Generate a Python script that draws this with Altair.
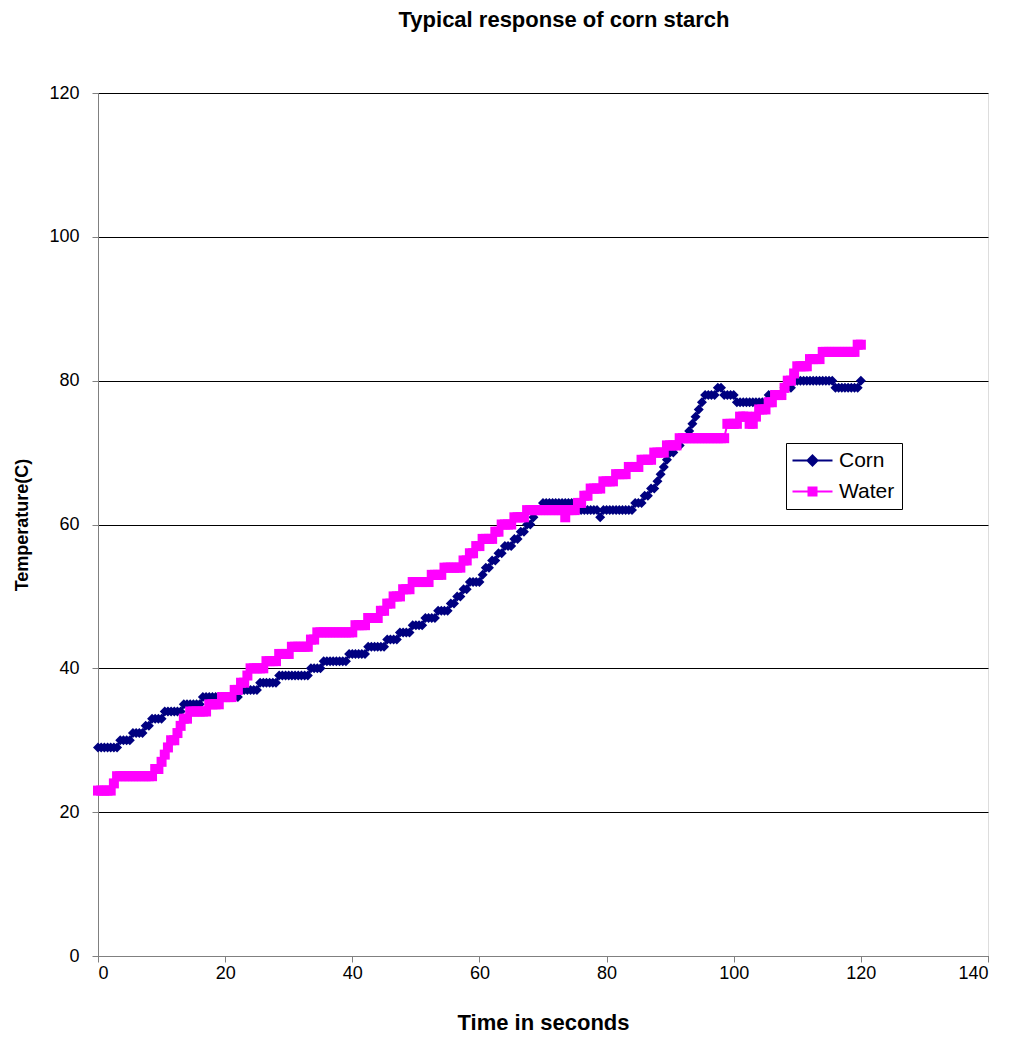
import altair as alt
import pandas as pd

# ---- data (readings every half second) ----
time_s = [i / 2 for i in range(241)]
corn = [
    29, 29, 29, 29, 29, 29, 29, 30, 30, 30, 30, 31, 31, 31, 31, 32, 32, 33, 33, 33,
    33, 34, 34, 34, 34, 34, 34, 35, 35, 35, 35, 35, 35, 36, 36, 36, 36, 36, 36, 36,
    36, 36, 36, 36, 36, 37, 37, 37, 37, 37, 37, 38, 38, 38, 38, 38, 38, 39, 39, 39,
    39, 39, 39, 39, 39, 39, 39, 40, 40, 40, 40, 41, 41, 41, 41, 41, 41, 41, 41, 42,
    42, 42, 42, 42, 42, 43, 43, 43, 43, 43, 43, 44, 44, 44, 44, 45, 45, 45, 45, 46,
    46, 46, 46, 47, 47, 47, 47, 48, 48, 48, 48, 49, 49, 50, 50, 51, 51, 52, 52, 52,
    52, 53, 54, 54, 55, 55, 56, 56, 57, 57, 57, 58, 58, 59, 59, 60, 60, 61, 62, 62,
    63, 63, 63, 63, 63, 63, 63, 63, 63, 63, 62, 62, 62, 62, 62, 62, 62, 62, 61, 62,
    62, 62, 62, 62, 62, 62, 62, 62, 62, 63, 63, 63, 64, 64, 65, 65, 66, 67, 68, 69,
    70, 70, 71, 71, 72, 72, 73, 74, 75, 76, 77, 78, 78, 78, 78, 79, 79, 78, 78, 78,
    78, 77, 77, 77, 77, 77, 77, 77, 77, 77, 77, 78, 78, 78, 78, 78, 79, 79, 79, 80,
    80, 80, 80, 80, 80, 80, 80, 80, 80, 80, 80, 80, 79, 79, 79, 79, 79, 79, 79, 79,
    80,
]
water = [
    23, 23, 23, 23, 23, 24, 25, 25, 25, 25, 25, 25, 25, 25, 25, 25, 25, 25, 26, 26,
    27, 28, 29, 30, 30, 31, 32, 33, 33, 34, 34, 34, 34, 34, 34, 35, 35, 35, 35, 36,
    36, 36, 36, 37, 37, 38, 38, 39, 40, 40, 40, 40, 40, 41, 41, 41, 41, 42, 42, 42,
    42, 43, 43, 43, 43, 43, 43, 44, 44, 45, 45, 45, 45, 45, 45, 45, 45, 45, 45, 45,
    45, 46, 46, 46, 46, 47, 47, 47, 47, 48, 48, 49, 49, 50, 50, 50, 51, 51, 51, 52,
    52, 52, 52, 52, 52, 53, 53, 53, 53, 54, 54, 54, 54, 54, 54, 55, 55, 56, 56, 57,
    57, 58, 58, 58, 58, 59, 59, 60, 60, 60, 60, 61, 61, 61, 61, 62, 62, 62, 62, 62,
    62, 62, 62, 62, 62, 62, 62, 61, 62, 62, 62, 63, 63, 64, 64, 65, 65, 65, 65, 66,
    66, 66, 66, 67, 67, 67, 67, 68, 68, 68, 68, 69, 69, 69, 69, 70, 70, 70, 70, 71,
    71, 71, 71, 72, 72, 72, 72, 72, 72, 72, 72, 72, 72, 72, 72, 72, 72, 72, 74, 74,
    74, 74, 75, 75, 75, 74, 74, 75, 76, 76, 76, 77, 77, 78, 78, 78, 79, 80, 80, 81,
    82, 82, 82, 82, 83, 83, 83, 83, 84, 84, 84, 84, 84, 84, 84, 84, 84, 84, 84, 85,
    85,
]
series_names = ["Corn", "Water"]
series_colors = ["#000080", "#FF00FF"]
x_ticks = [0, 20, 40, 60, 80, 100, 120, 140]
y_ticks = [0, 20, 40, 60, 80, 100, 120]

n = len(time_s)
df = pd.DataFrame({
    "t": time_s + time_s,
    "temp": corn + water,
    "series": ["Corn"] * n + ["Water"] * n,
})

FONT = "Liberation Sans"

x_enc = alt.X(
    "t:Q",
    scale=alt.Scale(domain=[0, 140], nice=False, zero=True),
    axis=alt.Axis(
        values=x_ticks, title="Time in seconds", grid=False,
        labelFont=FONT, labelFontSize=18, labelColor="black",
        titleFont=FONT, titleFontSize=22, titleFontWeight="bold", titleColor="black",
        titlePadding=30, labelPadding=2,
        domainColor="#808080", tickColor="#808080", tickSize=6,
    ),
)
y_enc = alt.Y(
    "temp:Q",
    scale=alt.Scale(domain=[0, 120], nice=False),
    axis=alt.Axis(
        values=y_ticks, title="Temperature(C)", grid=True,
        gridColor="black", gridWidth=1, gridOpacity=1,
        labelFont=FONT, labelFontSize=18, labelColor="black", labelPadding=13,
        titleFont=FONT, titleFontSize=18, titleFontWeight="bold", titleColor="black",
        titleX=-76, titleBaseline="middle",
        domainColor="#808080", tickColor="#808080", tickSize=6,
    ),
)

base = alt.Chart(df)

corn_line = base.transform_filter(alt.datum.series == "Corn").mark_line(
    color=series_colors[0], strokeWidth=2).encode(x=x_enc, y=y_enc)
corn_pts = base.transform_filter(alt.datum.series == "Corn").mark_point(
    shape="diamond", filled=True, size=100, color=series_colors[0], opacity=1).encode(x=x_enc, y=y_enc)
water_line = base.transform_filter(alt.datum.series == "Water").mark_line(
    color=series_colors[1], strokeWidth=2).encode(x=x_enc, y=y_enc)
water_pts = base.transform_filter(alt.datum.series == "Water").mark_point(
    shape="square", filled=True, size=100, color=series_colors[1], opacity=1).encode(x=x_enc, y=y_enc)

legend_paths = [
    "M-4,0L4,0M0,-1L1,0L0,1L-1,0Z",
    "M-4,0L4,0M-0.8,-0.8L0.8,-0.8L0.8,0.8L-0.8,0.8Z",
]
leg = dict(
    title=None, orient="none", legendX=688, legendY=350,
    padding=7, strokeColor="black", fillColor="white", cornerRadius=0,
    labelFont=FONT, labelFontSize=21, labelColor="black",
    symbolSize=100, symbolStrokeWidth=2, symbolOffset=9, labelOffset=16,
    rowPadding=9,
)
legend_layer = base.transform_filter("datum.t < 0").mark_point(
    filled=True, opacity=1, size=100, strokeWidth=2).encode(
    x=x_enc, y=y_enc,
    fill=alt.Fill("series:N", scale=alt.Scale(domain=series_names, range=series_colors),
                  legend=alt.Legend(**leg)),
    stroke=alt.Stroke("series:N", scale=alt.Scale(domain=series_names, range=series_colors),
                      legend=alt.Legend(**leg)),
    shape=alt.Shape("series:N", scale=alt.Scale(domain=series_names, range=legend_paths),
                    legend=alt.Legend(**leg)),
)

chart = alt.layer(corn_line, corn_pts, water_line, water_pts, legend_layer).properties(
    width=890, height=863,
    title=alt.TitleParams(
        "Typical response of corn starch", font=FONT, fontSize=22, fontWeight="bold",
        color="black", anchor="middle", frame="group", dx=21, offset=52,
    ),
    autosize=alt.AutoSizeParams(type="none"),
    padding={"left": 98, "top": 93, "right": 22, "bottom": 82},
).configure_view(stroke=None).configure(background="white")

chart.save("out.html", embed_options={"renderer": "svg", "actions": False})
